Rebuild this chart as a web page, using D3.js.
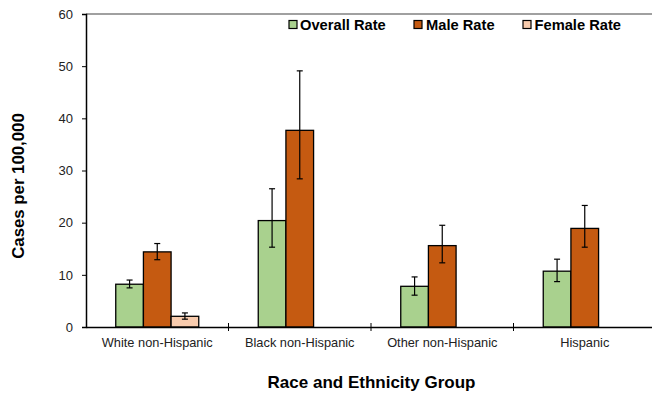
<!DOCTYPE html>
<html><head><meta charset="utf-8">
<script src="https://cdn.jsdelivr.net/npm/d3@7"></script>
<style>body{margin:0;background:#fff}svg{display:block;font-family:"Liberation Sans",Arial,sans-serif}</style>
</head><body><svg id="c" width="652" height="393"></svg>
<script>
const categories = ["White non-Hispanic","Black non-Hispanic","Other non-Hispanic","Hispanic"];
const seriesNames = ["Overall Rate","Male Rate","Female Rate"];
const colors = ["#A9D18E","#C55A11","#F8CBAD"];
const overall = [8.2, 20.4, 7.8, 10.7];
const overallLo = [7.5, 15.3, 6.1, 8.7];
const overallHi = [9.0, 26.5, 9.6, 13.0];
const male = [14.4, 37.7, 15.6, 18.9];
const maleLo = [12.9, 28.4, 12.3, 15.3];
const maleHi = [16.0, 49.1, 19.5, 23.3];
const female = [2.05, 0, 0, 0];
const femaleLo = [1.5, null, null, null];
const femaleHi = [2.7, null, null, null];
const yTicks = [0,10,20,30,40,50,60];

const svg = d3.select("#c");
const m = {l:86, r:656, t:14, b:327};
const x = d3.scaleBand().domain(categories).range([m.l, m.r]);
const y = d3.scaleLinear().domain([0,60]).range([m.b, m.t]);
const inner = d3.scaleBand().domain([0,1,2]).range([0, 83]);

const series = [
  {v:overall, lo:overallLo, hi:overallHi},
  {v:male, lo:maleLo, hi:maleHi},
  {v:female, lo:femaleLo, hi:femaleHi}
];

// top border
svg.append("line").attr("x1",m.l).attr("x2",m.r).attr("y1",y(60)).attr("y2",y(60))
  .attr("stroke","#808080").attr("stroke-width",1.5);

// y axis
const ya = svg.append("g").attr("transform",`translate(${m.l},0)`)
  .call(d3.axisLeft(y).tickValues(yTicks).tickSize(4).tickPadding(9));
ya.select(".domain").attr("stroke","#000").attr("stroke-width",1.5);
ya.selectAll(".tick line").attr("stroke","#000");
ya.selectAll("text").attr("font-size",13).attr("fill","#222").attr("font-family","Liberation Sans, Arial");

// bars
series.forEach((s,si)=>{
  categories.forEach((c,ci)=>{
    const cx = x(c) + x.bandwidth()/2 - 41.5 + inner(si);
    svg.append("rect").attr("x",cx).attr("width",inner.bandwidth())
      .attr("y",y(s.v[ci])).attr("height",y(0)-y(s.v[ci]))
      .attr("fill",colors[si]).attr("stroke","#000").attr("stroke-width",1.3);
  });
});
// error bars
series.forEach((s,si)=>{
  categories.forEach((c,ci)=>{
    if(s.lo[ci]==null) return;
    const mx = x(c) + x.bandwidth()/2 - 41.5 + inner(si) + inner.bandwidth()/2;
    const g = svg.append("g").attr("stroke","#000").attr("stroke-width",1.2);
    g.append("line").attr("x1",mx).attr("x2",mx).attr("y1",y(s.lo[ci])).attr("y2",y(s.hi[ci]));
    [s.lo[ci], s.hi[ci]].forEach(v=>g.append("line").attr("x1",mx-3).attr("x2",mx+3).attr("y1",y(v)).attr("y2",y(v)));
  });
});

// x axis
const xa = svg.append("g").attr("transform",`translate(0,${m.b})`)
  .call(d3.axisBottom(x).tickSize(0).tickPadding(11));
xa.select(".domain").attr("stroke","#000").attr("stroke-width",1.5);
xa.selectAll("text").attr("font-size",12.8).attr("fill","#222").attr("font-family","Liberation Sans, Arial");
categories.slice(1).forEach(c=>{
  svg.append("line").attr("x1",x(c)).attr("x2",x(c)).attr("y1",m.b-4).attr("y2",m.b+4)
    .attr("stroke","#000").attr("stroke-width",1);
});

// axis titles
svg.append("text").attr("x",371.5).attr("y",388).attr("text-anchor","middle")
  .attr("font-size",17).attr("font-weight","bold").text("Race and Ethnicity Group");
svg.append("text").attr("transform","translate(24,186) rotate(-90)").attr("text-anchor","middle")
  .attr("font-size",16.8).attr("font-weight","bold").text("Cases per 100,000");

// legend
const legX = [289, 414, 523];
const legT = [300, 426, 534.5];
seriesNames.forEach((n,i)=>{
  svg.append("rect").attr("x",legX[i]).attr("y",20.5).attr("width",8).attr("height",8)
    .attr("fill",colors[i]).attr("stroke","#000").attr("stroke-width",1.2);
  svg.append("text").attr("x",legT[i]).attr("y",29.5).attr("font-size",14.7).attr("font-weight","bold").text(n);
});
</script></body></html>
